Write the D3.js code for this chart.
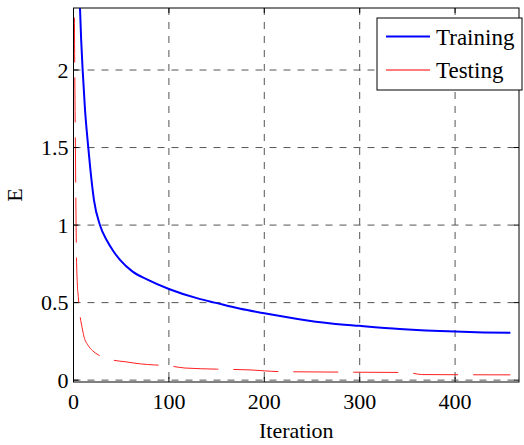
<!DOCTYPE html>
<html>
<head>
<meta charset="utf-8">
<script src="https://cdn.jsdelivr.net/npm/d3@7"></script>
<style>
  body { margin: 0; background: #fff; }
  text { font-family: "Liberation Serif", "Times New Roman", serif; }
</style>
</head>
<body>
<div id="chart"></div>
<script>
// values
const trainIter = [0, 3, 5, 6.5, 8, 9.6, 12, 15.5, 17.5, 21.5, 27.7, 35, 42, 49, 62, 77, 100, 132, 148, 175, 200, 235, 268, 300, 342, 400, 430, 458];
const trainE = [4.5, 3.3, 2.75, 2.45, 2.2, 2.0, 1.75, 1.5, 1.37, 1.16, 1.0, 0.9, 0.83, 0.774, 0.7, 0.65, 0.588, 0.524, 0.5, 0.46, 0.431, 0.395, 0.367, 0.35, 0.33, 0.313, 0.308, 0.306];
const testIter = [0, 1, 2, 3, 4, 5, 6, 7, 9, 11, 15, 20, 26, 40, 55, 70, 85, 100, 117, 150, 185, 200, 215, 250, 300, 350, 365, 400, 458];
const testE = [3.5, 2.3, 1.5, 0.85, 0.62, 0.54, 0.47, 0.41, 0.34, 0.28, 0.227, 0.19, 0.163, 0.131, 0.118, 0.105, 0.098, 0.092, 0.078, 0.071, 0.066, 0.06, 0.055, 0.053, 0.051, 0.049, 0.036, 0.035, 0.034];
const xTicks = [0, 100, 200, 300, 400];
const yTicks = [0, 0.5, 1, 1.5, 2];
const legendLabels = ['Training', 'Testing'];

const W = 524, H = 445;
const M = { top: 8, right: 5, bottom: 63, left: 73.5 };
const iw = W - M.left - M.right, ih = H - M.top - M.bottom;

const x = d3.scaleLinear().domain([0, 467]).range([0, iw]);
const y = d3.scaleLinear().domain([-0.012, 2.4]).range([ih, 0]);

const svg = d3.select('#chart').append('svg').attr('width', W).attr('height', H);
const g = svg.append('g').attr('transform', `translate(${M.left},${M.top})`);

svg.append('defs').append('clipPath').attr('id', 'clip')
  .append('rect').attr('width', iw).attr('height', ih);

// grid
g.selectAll('.gx').data(xTicks.filter((d) => d > 0)).join('line')
  .attr('x1', (d) => x(d)).attr('x2', (d) => x(d))
  .attr('y1', 0).attr('y2', ih)
  .attr('stroke', '#555').attr('stroke-dasharray', '7,7');
g.selectAll('.gy').data(yTicks).join('line')
  .attr('x1', 0).attr('x2', iw)
  .attr('y1', (d) => y(d)).attr('y2', (d) => y(d))
  .attr('stroke', '#555').attr('stroke-dasharray', '7,7');

// curves
const line = d3.line().curve(d3.curveMonotoneX).x((d) => x(d[0])).y((d) => y(d[1]));
const lines = g.append('g').attr('clip-path', 'url(#clip)');
lines.append('path')
  .datum(testIter.map((d, i) => [d, testE[i]]))
  .attr('d', line).attr('fill', 'none')
  .attr('stroke', '#ff2020').attr('stroke-width', 1)
  .attr('stroke-dasharray', '45,15');
lines.append('path')
  .datum(trainIter.map((d, i) => [d, trainE[i]]))
  .attr('d', line).attr('fill', 'none')
  .attr('stroke', '#0000ff').attr('stroke-width', 2);

// box + ticks
g.append('rect').attr('width', iw).attr('height', ih)
  .attr('fill', 'none').attr('stroke', '#000').attr('stroke-width', 1);
const tl = 5;
xTicks.forEach((t) => {
  g.append('line').attr('x1', x(t)).attr('x2', x(t)).attr('y1', ih).attr('y2', ih - tl).attr('stroke', '#000');
  g.append('line').attr('x1', x(t)).attr('x2', x(t)).attr('y1', 0).attr('y2', tl).attr('stroke', '#000');
  g.append('text').attr('x', x(t)).attr('y', ih + 27)
    .attr('text-anchor', 'middle').attr('font-size', '22px').text(t);
});
yTicks.forEach((t) => {
  g.append('line').attr('x1', 0).attr('x2', tl).attr('y1', y(t)).attr('y2', y(t)).attr('stroke', '#000');
  g.append('line').attr('x1', iw).attr('x2', iw - tl).attr('y1', y(t)).attr('y2', y(t)).attr('stroke', '#000');
  g.append('text').attr('x', -5).attr('y', y(t)).attr('dy', '0.35em')
    .attr('text-anchor', 'end').attr('font-size', '22px').text(t);
});

// axis labels
svg.append('text').attr('x', M.left + iw / 2).attr('y', 438)
  .attr('text-anchor', 'middle').attr('font-size', '22px').text('Iteration');
svg.append('text').attr('transform', `translate(22,${M.top + ih / 2}) rotate(-90)`)
  .attr('text-anchor', 'middle').attr('font-size', '22px').text('E');

// legend
const lg = svg.append('g').attr('transform', 'translate(377,18)');
lg.append('rect').attr('width', 145).attr('height', 72)
  .attr('fill', '#fff').attr('stroke', '#000');
const legendColors = ['#0000ff', '#ff5050'];
const legendWidths = [2, 1.5];
legendLabels.forEach((lab, i) => {
  const ly = 18.5 + i * 33.5;
  lg.append('line').attr('x1', 9).attr('x2', 53).attr('y1', ly).attr('y2', ly)
    .attr('stroke', legendColors[i]).attr('stroke-width', legendWidths[i]);
  lg.append('text').attr('x', 59).attr('y', ly).attr('dy', '0.35em')
    .attr('font-size', '23px').text(lab);
});
</script>
</body>
</html>
